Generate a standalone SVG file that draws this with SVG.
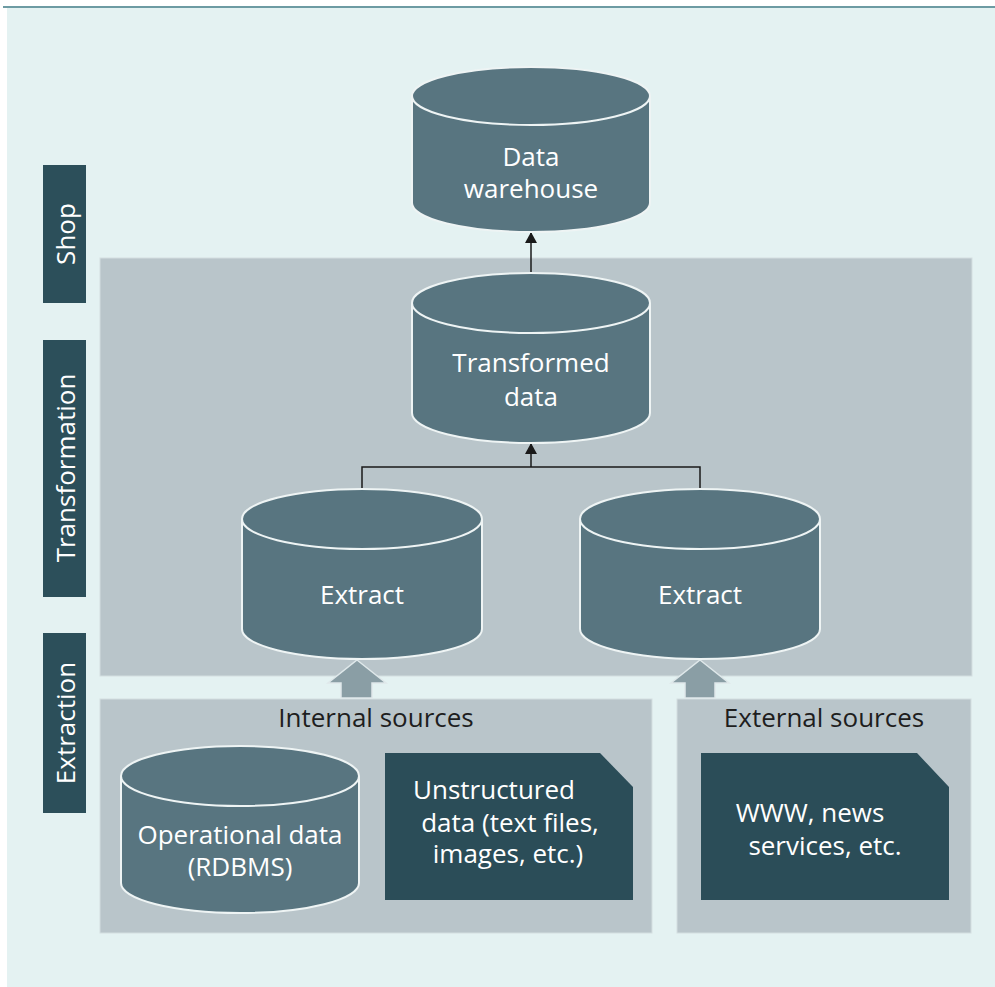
<svg xmlns="http://www.w3.org/2000/svg" width="995" height="987" viewBox="0 0 995 987">
<defs>
<style>
.bg{fill:#e4f2f2}
.panel{fill:#b9c5ca;stroke:#d3dee0;stroke-width:1}
.bar{fill:#2c4f5a}
.cyl{fill:#587580;stroke:#eef4f4;stroke-width:2}
.doc{fill:#2b4d58}
.wt{fill:#ffffff;font-family:"Open Sans","Noto Sans",sans-serif;font-size:26px;text-anchor:middle}
.dt{fill:#1e1e1e;font-family:"Open Sans","Noto Sans",sans-serif;font-size:26px;text-anchor:middle}
.lt{fill:#ffffff;font-family:"Open Sans","Noto Sans",sans-serif;font-size:26px;text-anchor:middle;dominant-baseline:central}
.conn{fill:none;stroke:#1a1a1a;stroke-width:1.5}
.big{fill:#8a9ea5;stroke:#dfe8ea;stroke-width:1.5}
</style>
<marker id="ah" viewBox="0 0 10 10" refX="10" refY="5" markerWidth="11" markerHeight="12" markerUnits="userSpaceOnUse" orient="auto" preserveAspectRatio="none">
<path d="M0,0 L10,5 L0,10 Z" fill="#1a1a1a"/>
</marker>
</defs>
<rect x="7" y="8" width="988" height="979" class="bg"/>
<line x1="3" y1="7" x2="995" y2="7" stroke="#3d7a85" stroke-width="1.5"/>

<g id="label-shop"><rect x="43" y="165" width="43" height="138" class="bar"/><text class="lt" transform="translate(65,234) rotate(-90)">Shop</text></g>
<g id="label-transformation"><rect x="43" y="340" width="43" height="257" class="bar"/><text class="lt" transform="translate(65,468) rotate(-90)">Transformation</text></g>
<g id="label-extraction"><rect x="43" y="633" width="43" height="180" class="bar"/><text class="lt" transform="translate(65,723) rotate(-90)">Extraction</text></g>

<g id="panel-transformation"><rect x="100" y="258" width="872" height="418" class="panel"/></g>
<g id="panel-internal"><rect x="100" y="699" width="552" height="234" class="panel"/><text class="dt" x="376" y="727">Internal sources</text></g>
<g id="panel-external"><rect x="677" y="699" width="294" height="234" class="panel"/><text class="dt" x="824" y="727">External sources</text></g>

<g id="connectors">
<path class="big" d="M357,660 L386,683 L372,683 L372,698 L341,698 L341,683 L328,683 Z"/>
<path class="big" d="M700,660 L729,683 L715,683 L715,698 L685,698 L685,683 L671,683 Z"/>
<path class="conn" d="M362,490 L362,467 L700,467 L700,490"/>
<path class="conn" d="M531,467 L531,443" marker-end="url(#ah)"/>
<path class="conn" d="M531,273 L531,232" marker-end="url(#ah)"/>
</g>

<g id="node-warehouse">
<path class="cyl" d="M412,96 L412,203 A119,29 0 0 0 650,203 L650,96 A119,29 0 0 0 412,96 Z"/>
<path class="cyl" d="M412,96 A119,29 0 0 0 650,96"/>
<text class="wt" x="531" y="166">Data</text><text class="wt" x="531" y="198">warehouse</text>
</g>
<g id="node-transformed">
<path class="cyl" d="M412,303 L412,413 A119,30 0 0 0 650,413 L650,303 A119,30 0 0 0 412,303 Z"/>
<path class="cyl" d="M412,303 A119,30 0 0 0 650,303"/>
<text class="wt" x="531" y="372">Transformed</text><text class="wt" x="531" y="406">data</text>
</g>
<g id="node-extract-left">
<path class="cyl" d="M242,519 L242,629 A120,30 0 0 0 482,629 L482,519 A120,30 0 0 0 242,519 Z"/>
<path class="cyl" d="M242,519 A120,30 0 0 0 482,519"/>
<text class="wt" x="362" y="604">Extract</text>
</g>
<g id="node-extract-right">
<path class="cyl" d="M580,519 L580,629 A120,30 0 0 0 820,629 L820,519 A120,30 0 0 0 580,519 Z"/>
<path class="cyl" d="M580,519 A120,30 0 0 0 820,519"/>
<text class="wt" x="700" y="604">Extract</text>
</g>
<g id="node-operational">
<path class="cyl" d="M121,776 L121,883 A119,30 0 0 0 359,883 L359,776 A119,30 0 0 0 121,776 Z"/>
<path class="cyl" d="M121,776 A119,30 0 0 0 359,776"/>
<text class="wt" x="240" y="844">Operational data</text><text class="wt" x="240" y="876">(RDBMS)</text>
</g>
<g id="node-unstructured">
<path class="doc" d="M385,753 L600,753 L633,787 L633,900 L385,900 Z"/>
<text class="wt" x="494" y="799">Unstructured</text><text class="wt" x="510" y="832">data (text files,</text><text class="wt" x="508" y="863">images, etc.)</text>
</g>
<g id="node-www">
<path class="doc" d="M701,753 L917,753 L949,787 L949,900 L701,900 Z"/>
<text class="wt" x="810" y="822">WWW, news</text><text class="wt" x="825" y="855">services, etc.</text>
</g>
</svg>
